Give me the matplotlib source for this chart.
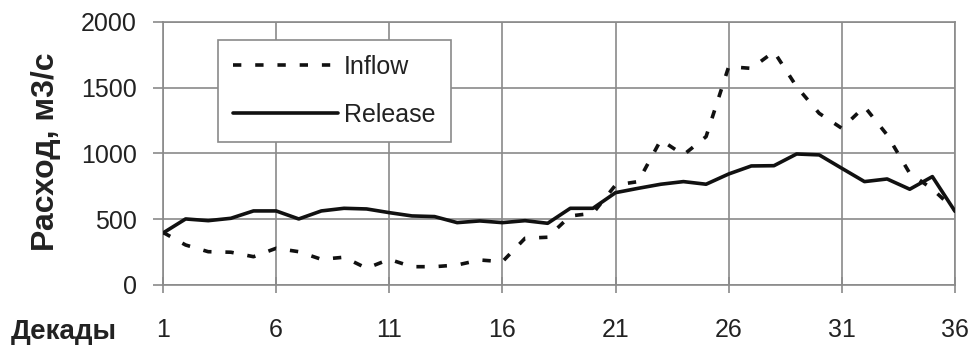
import numpy as np
import matplotlib
matplotlib.use("Agg")
import matplotlib.pyplot as plt

plt.rcParams['font.family'] = ['Liberation Sans', 'DejaVu Sans']
plt.rcParams['lines.scale_dashes'] = False

# декады 1..36
dekady = list(range(1, 37))

# приток, м3/с
inflow = [400, 304, 253, 249, 215, 279, 253, 195, 211, 127,
          195, 139, 139, 152, 190, 177, 355, 363, 525, 545,
          760, 786, 1103, 989, 1128, 1660, 1647, 1774, 1508, 1305,
          1191, 1356, 1141, 849, 730, 570]

# сброс, м3/с
release = [395, 502, 489, 507, 563, 563, 502, 563, 583, 578,
           550, 525, 520, 474, 487, 474, 489, 469, 583, 583,
           702, 735, 766, 786, 766, 844, 905, 907, 996, 989,
           887, 786, 806, 728, 824, 560]

xticks = [1, 6, 11, 16, 21, 26, 31, 36]
yticks = [0, 500, 1000, 1500, 2000]

grid_col = '#8a8a8a'
txt_col = '#222222'

fig = plt.figure(figsize=(9.73, 3.54), dpi=100)
ax = fig.add_axes([0.1675, 0.195, 0.814, 0.743])

ax.plot(dekady, inflow, color='#111111', lw=2.6, dashes=(6, 10),
        solid_joinstyle='round', dash_capstyle='butt', label='Inflow', zorder=3)
ax.plot(dekady, release, color='#111111', lw=2.6,
        solid_joinstyle='round', solid_capstyle='round', label='Release', zorder=4)

ax.set_xlim(1, 36)
ax.set_ylim(0, 2000)
ax.set_xticks(xticks)
ax.set_yticks(yticks)
ax.grid(True, color=grid_col, lw=1.2)
ax.set_axisbelow(True)
for s in ax.spines.values():
    s.set_color(grid_col)
    s.set_linewidth(1.2)

ax.tick_params(axis='y', direction='out', length=7, width=1.2, color=grid_col,
               pad=12, labelsize=18, labelcolor=txt_col)
ax.tick_params(axis='x', direction='inout', length=12, width=1.2, color=grid_col,
               pad=18, labelsize=18, labelcolor=txt_col)

fig.text(0.047, 0.571, 'Расход, м3/с', rotation=90, ha='center', va='center',
         fontsize=23, fontweight='bold', color=txt_col)
fig.text(0.011, 0.063, 'Декады', ha='left', va='center',
         fontsize=20, fontweight='bold', color=txt_col)

leg = ax.legend(loc='upper left', bbox_to_anchor=(0.224, 0.887),
                bbox_transform=fig.transFigure, fontsize=18, handlelength=4.2,
                handletextpad=0.25, labelspacing=0.95, borderpad=0.6,
                fancybox=False, framealpha=1, edgecolor=grid_col, borderaxespad=0)
leg.get_frame().set_linewidth(1.2)
for t in leg.get_texts():
    t.set_color(txt_col)

fig.savefig('out.png', dpi=100)
